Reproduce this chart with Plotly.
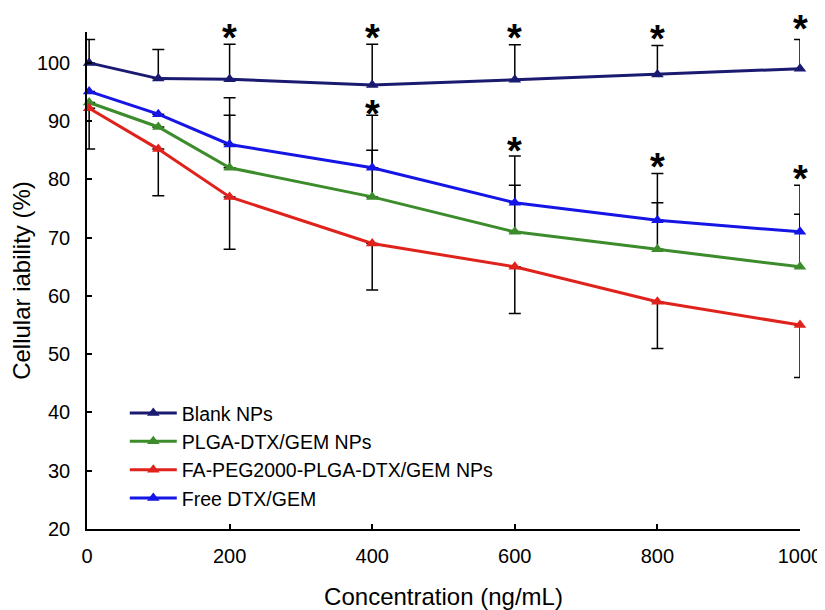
import plotly.graph_objects as go

conc = [3, 100, 200, 400, 600, 800, 1000]

blank = [100.0, 97.3, 97.2, 96.2, 97.1, 98.0, 99.0]
plga = [93.2, 89.0, 82.0, 77.0, 71.0, 68.0, 65.0]
fa_peg = [92.2, 85.2, 77.0, 69.0, 65.0, 59.0, 55.0]
free = [95.1, 91.2, 86.0, 82.0, 76.0, 73.0, 71.0]

blank_err_up = [4, 5, 6, 7, 6, 5, 5]
plga_err_up = [None, None, 9, 8, 8, 8, 9]
fa_peg_err_down = [7, 8, 9, 8, 8, 8, 9]
free_err_up = [None, None, 8, 9, 8, 8, 8]

star_x = [200, 400, 600, 800, 1000, 400, 600, 800, 1000]
star_y = [105.9, 105.9, 105.9, 105.6, 107.3, 92.7, 86.4, 83.6, 81.6]

names = ["Blank NPs", "PLGA-DTX/GEM NPs", "FA-PEG2000-PLGA-DTX/GEM NPs", "Free DTX/GEM"]
colors = ["#1a1a70", "#3c8c2c", "#e0221c", "#1515e6"]

FONT = "Liberation Sans, Arial, sans-serif"
Y_RANGE = [20, 105.3]

fig = go.Figure()

def zeros(arr):
    return [0 if v is not None else None for v in arr]

series = [
    (names[0], blank, dict(type="data", array=blank_err_up, arrayminus=zeros(blank_err_up), symmetric=False)),
    (names[1], plga, dict(type="data", array=plga_err_up, arrayminus=zeros(plga_err_up), symmetric=False)),
    (names[2], fa_peg, dict(type="data", array=zeros(fa_peg_err_down), arrayminus=fa_peg_err_down, symmetric=False)),
    (names[3], free, dict(type="data", array=free_err_up, arrayminus=zeros(free_err_up), symmetric=False)),
]

for (name, vals, err), col in zip(series, colors):
    err.update(color="black", thickness=1.5, width=6, visible=True)
    fig.add_trace(go.Scatter(
        x=conc, y=vals, name=name, mode="lines+markers",
        line=dict(color=col, width=3),
        marker=dict(symbol="triangle-up", size=11, color=col),
        error_y=err, cliponaxis=False,
    ))

for sx, sy in zip(star_x, star_y):
    fig.add_annotation(x=sx, y=(sy - Y_RANGE[0]) / (Y_RANGE[1] - Y_RANGE[0]),
                       text="<b>*</b>", showarrow=False,
                       xref="x", yref="paper", yanchor="middle", yshift=-9,
                       font=dict(size=38, color="black", family=FONT))

fig.update_layout(
    width=817, height=602,
    margin=dict(l=79, r=25, t=24, b=81, autoexpand=False),
    paper_bgcolor="white", plot_bgcolor="white",
    font=dict(family=FONT, size=20, color="black"),
    showlegend=True,
    legend=dict(x=0.053, y=0.272, xanchor="left", yanchor="top",
                bgcolor="rgba(0,0,0,0)", font=dict(size=19.5), tracegroupgap=0,
                itemwidth=47),
    xaxis=dict(range=[0, 1000], tickvals=[0, 200, 400, 600, 800, 1000],
               showline=True, linecolor="black", linewidth=1.5,
               ticks="inside", ticklen=5, tickcolor="black", tickwidth=1.5,
               showgrid=False, zeroline=False, ticklabelstandoff=8,
               automargin=False,
               title=dict(text="Concentration (ng/mL)", standoff=30)),
    yaxis=dict(range=Y_RANGE, tickvals=[20, 30, 40, 50, 60, 70, 80, 90, 100],
               showline=True, linecolor="black", linewidth=1.5,
               ticks="inside", ticklen=5, tickcolor="black", tickwidth=1.5,
               showgrid=False, zeroline=False, ticklabelstandoff=11,
               automargin=False,
               title=dict(text="Cellular iability (%)", standoff=0)),
)

fig.write_html("out.html")
